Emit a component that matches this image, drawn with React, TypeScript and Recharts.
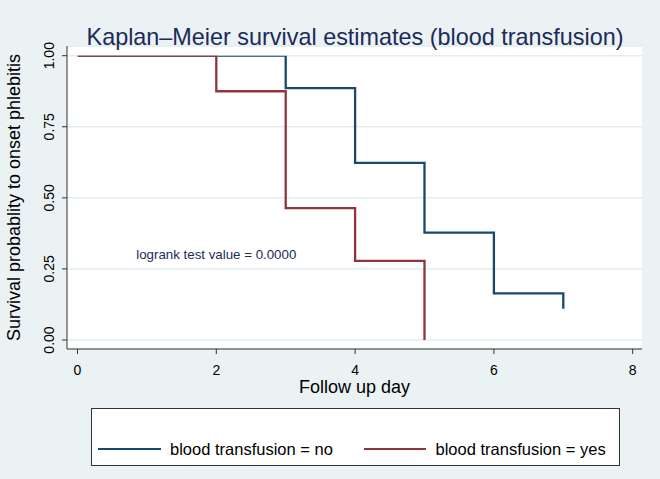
import React from 'react';
import {
  LineChart,
  Line,
  XAxis,
  YAxis,
  CartesianGrid,
  Legend,
  ReferenceDot,
} from 'recharts';

// Kaplan–Meier step estimates for each group
const daysNo = [0, 3, 4, 5, 6, 7];
const survivalNo = [1, 0.886, 0.623, 0.378, 0.164, 0.11];
const daysYes = [0, 2, 3, 4, 5];
const survivalYes = [1, 0.875, 0.464, 0.278, 0];

const xTicks = [0, 2, 4, 6, 8];
const yTicks = [0, 0.25, 0.5, 0.75, 1];

const seriesNames = ['blood transfusion = no', 'blood transfusion = yes'];
const seriesColors = ['#1A476F', '#90353B'];

const titleText = 'Kaplan–Meier survival estimates (blood transfusion)';
const xTitle = 'Follow up day';
const yTitle = 'Survival probablity to onset phlebitis';
const logrankText = 'logrank test value = 0.0000';
const logrankAt = { day: 2, survival: 0.3 };

const FONT = '"Liberation Sans", Arial, Helvetica, sans-serif';
const BG = '#EAF2F3';
const INK = '#1C2B5A';
const AXIS = '#333333';

const toRows = (days: number[], surv: number[]) =>
  days.map((t, i) => ({ t, s: surv[i] }));

const rowsNo = toRows(daysNo, survivalNo);
const rowsYes = toRows(daysYes, survivalYes);

const YTick = (props: any) => {
  const { x, y, payload } = props;
  return (
    <text
      x={x}
      y={y}
      transform={`rotate(-90, ${x}, ${y})`}
      textAnchor="middle"
      fontSize={14}
      fill="#000"
      fontFamily={FONT}
    >
      {Number(payload.value).toFixed(2)}
    </text>
  );
};

const YTitle = (props: any) => {
  const vb = props.viewBox || {};
  const cx = 20;
  const cy = (vb.y ?? 46) + (vb.height ?? 303) / 2;
  return (
    <text
      x={cx}
      y={cy}
      transform={`rotate(-90, ${cx}, ${cy})`}
      textAnchor="middle"
      fontSize={18}
      fill="#000"
      fontFamily={FONT}
    >
      {yTitle}
    </text>
  );
};

const XTitle = (props: any) => {
  const vb = props.viewBox || {};
  const cx = (vb.x ?? 67) + (vb.width ?? 575) / 2;
  return (
    <text x={cx} y={392.5} textAnchor="middle" fontSize={18} fill="#000" fontFamily={FONT}>
      {xTitle}
    </text>
  );
};

const renderLegend = (props: any) => {
  const payload = props.payload || [];
  return (
    <div
      style={{
        position: 'relative',
        width: 529,
        height: 58,
        boxSizing: 'border-box',
        border: `1px solid ${AXIS}`,
        background: '#fff',
        fontFamily: FONT,
      }}
    >
      {payload.map((entry: any, i: number) => (
        <React.Fragment key={entry.value}>
          <div
            style={{
              position: 'absolute',
              left: 6 + i * 265.5,
              top: 39,
              width: 62.5,
              height: 2.4,
              background: entry.color,
            }}
          />
          <span
            style={{
              position: 'absolute',
              left: 78 + i * 265.5,
              top: 30,
              fontSize: 16.5,
              lineHeight: '20px',
              color: '#000',
              whiteSpace: 'nowrap',
            }}
          >
            {entry.value}
          </span>
        </React.Fragment>
      ))}
    </div>
  );
};

export default function App() {
  return (
    <div
      style={{
        position: 'absolute',
        left: 0,
        top: 0,
        width: 660,
        height: 479,
        background: BG,
        fontFamily: FONT,
      }}
    >
      <LineChart
        width={660}
        height={479}
        margin={{ top: 46, right: 18, bottom: 80, left: 0 }}
      >
        <text
          x={355}
          y={45}
          textAnchor="middle"
          fontSize={23.4}
          fill={INK}
          fontFamily={FONT}
        >
          {titleText}
        </text>
        <CartesianGrid
          horizontal
          vertical={false}
          fill="#ffffff"
          stroke="#E3ECEE"
          strokeWidth={1.5}
        />
        <XAxis
          type="number"
          dataKey="t"
          domain={[0, 8]}
          ticks={xTicks}
          allowDataOverflow
          padding={{ left: 10.5, right: 9.3 }}
          height={50}
          tickSize={5}
          tickMargin={11}
          axisLine={{ stroke: AXIS, strokeWidth: 1 }}
          tickLine={{ stroke: AXIS, strokeWidth: 1 }}
          tick={{ fontSize: 14, fill: '#000', fontFamily: FONT }}
          label={XTitle}
        />
        <YAxis
          type="number"
          dataKey="s"
          domain={[0, 1]}
          ticks={yTicks}
          allowDataOverflow
          padding={{ top: 9.7, bottom: 9 }}
          width={67}
          tickSize={5}
          tickMargin={8}
          axisLine={{ stroke: AXIS, strokeWidth: 1 }}
          tickLine={{ stroke: AXIS, strokeWidth: 1 }}
          tick={YTick}
          label={YTitle}
        />
        <Line
          data={rowsNo}
          dataKey="s"
          name={seriesNames[0]}
          type="stepAfter"
          stroke={seriesColors[0]}
          strokeWidth={2.3}
          strokeLinejoin="miter"
          dot={false}
          activeDot={false}
          isAnimationActive={false}
        />
        <Line
          data={rowsYes}
          dataKey="s"
          name={seriesNames[1]}
          type="stepAfter"
          stroke={seriesColors[1]}
          strokeWidth={2.3}
          strokeLinejoin="miter"
          dot={false}
          activeDot={false}
          isAnimationActive={false}
        />
        <ReferenceDot
          x={logrankAt.day}
          y={logrankAt.survival}
          r={0}
          fill="none"
          stroke="none"
          label={{
            value: logrankText,
            position: 'center',
            fontSize: 13.3,
            fill: INK,
            fontFamily: FONT,
          }}
        />
        <Legend
          layout="horizontal"
          verticalAlign="middle"
          align="center"
          wrapperStyle={{ left: 91, top: 408, width: 529, height: 58 }}
          content={renderLegend}
        />
      </LineChart>
    </div>
  );
}
